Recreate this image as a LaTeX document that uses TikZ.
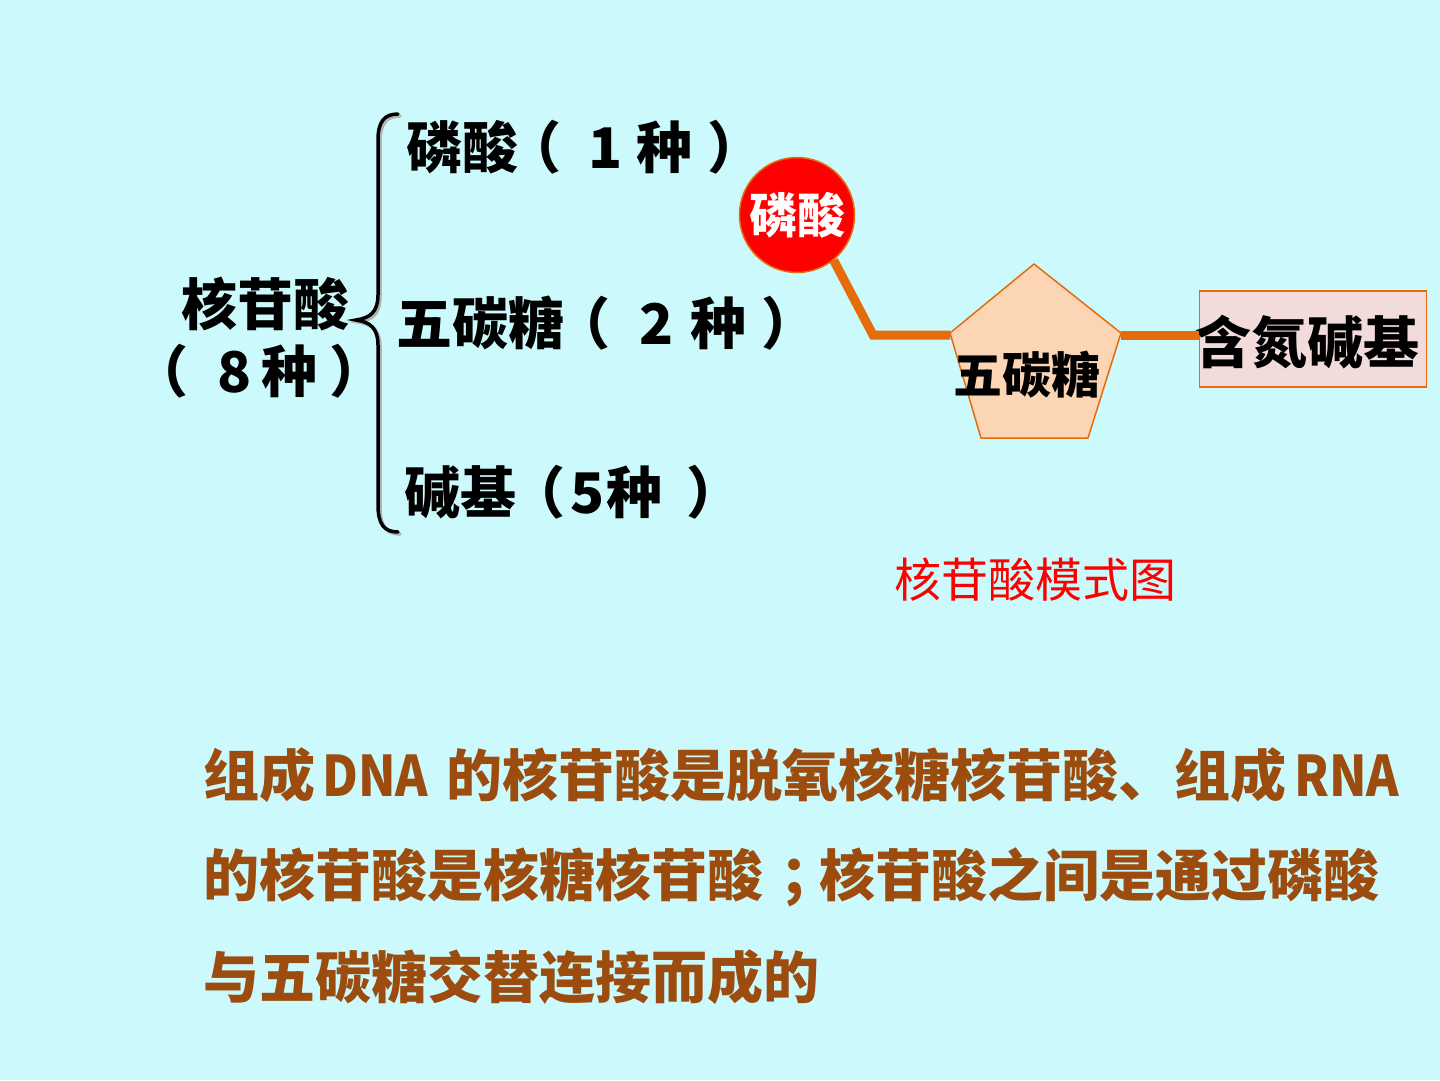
\documentclass[tikz,border=0pt]{standalone}
\usepackage{fontspec}
\newfontfamily\cjk{Noto Sans CJK SC}
\definecolor{bgc}{RGB}{204,250,252}
\definecolor{orline}{RGB}{228,108,10}
\definecolor{pent}{RGB}{252,213,181}
\definecolor{boxc}{RGB}{242,220,219}
\definecolor{brownt}{RGB}{156,76,14}
\definecolor{redc}{RGB}{255,0,0}
\newcommand{\narrowlat}[1]{\scalebox{0.88}[1]{#1}}
\tikzset{
  bigtxt/.style={inner sep=0pt, font=\cjk\bfseries\fontsize{56}{60}\selectfont, text=black},
  bottomtxt/.style={inner sep=0pt, anchor=west, font=\cjk\bfseries\fontsize{56}{60}\selectfont, text=brownt},
  link/.style={draw=orline, line width=9pt},
  bracestyle/.style={line width=3.5pt, line cap=round},
}
\begin{document}
\begin{tikzpicture}[x=1pt,y=-1pt]
\fill[bgc] (0,0) rectangle (1440,1080);
\useasboundingbox (0,0) rectangle (1440,1080);

% left classification
\node[bigtxt] (nuc) at (265,304) {核苷酸};
\node[bigtxt] (nuc8) at (259,371) {（\hspace{29pt}8\hspace{10pt}种\hspace{12pt}）};
\draw[bracestyle, gray!60, shift={(2,2)}] (398,114) .. controls (384,114) and (378,122) .. (378,140) -- (378,295) .. controls (378,312) and (370,318) .. (356,320) .. controls (370,322) and (378,328) .. (378,345) -- (378,505) .. controls (378,524) and (384,532) .. (398,532);
\draw[bracestyle, black] (398,114) .. controls (384,114) and (378,122) .. (378,140) -- (378,295) .. controls (378,312) and (370,318) .. (356,320) .. controls (370,322) and (378,328) .. (378,345) -- (378,505) .. controls (378,524) and (384,532) .. (398,532);
\node[bigtxt, anchor=west] (p1) at (406,147) {磷酸\hspace{-13pt}（\hspace{27pt}1\hspace{14pt}种\hspace{15pt}）};
\node[bigtxt, anchor=west] (p2) at (396,323) {五碳糖\hspace{-10pt}（\hspace{29pt}2\hspace{17pt}种\hspace{15pt}）};
\node[bigtxt, anchor=west] (p3) at (404,492) {碱基\hspace{-7pt}（\hspace{5pt}5\hspace{2pt}种\hspace{24pt}）};

% nucleotide model
\node[circle, fill=redc, draw=orline, line width=1.5pt, minimum size=115pt, inner sep=0pt,
      font=\cjk\bfseries\fontsize{48}{50}\selectfont, text=white] (pa) at (797,215) {磷酸};
\coordinate (s1) at (1034,264);
\coordinate (s2) at (950,333);
\coordinate (s3) at (981,438);
\coordinate (s4) at (1088,438);
\coordinate (s5) at (1121,333);
\filldraw[fill=pent, draw=orline, line width=1.5pt, line join=round] (s1) -- (s2) -- (s3) -- (s4) -- (s5) -- cycle;
\node[bigtxt, font=\cjk\bfseries\fontsize{49}{52}\selectfont] (sugartxt) at (1027,375) {五碳糖};
\node[rectangle, fill=boxc, draw=orline, line width=1.5pt, minimum width=227pt, minimum height=96pt,
      inner sep=0pt] (base) at (1313,339) {};
\node[bigtxt] (basetxt) at (1307,342) {含氮碱基};
\coordinate (bend) at (873,335);
\coordinate (s2l) at (950,335);
\coordinate (s5r) at (1121,335);
\draw[link] (pa.-51) -- (bend) -- (s2l);
\draw[link] (s5r) -- (s5r -| base.west);

\node[inner sep=0pt, font=\cjk\fontsize{47}{50}\selectfont, text=redc] (cap) at (1035,580) {核苷酸模式图};

% bottom text
\node[bottomtxt] (l1) at (203,775) {组成\hspace{7pt}\narrowlat{DNA}\hspace{18pt}的核苷酸是脱氧核糖核苷酸、组成\hspace{8pt}\narrowlat{RNA}};
\node[bottomtxt] (l2) at (203,877) {的核苷酸是核糖核苷酸\hspace{17pt}；\hspace{-17pt}核苷酸之间是通过磷酸};
\node[bottomtxt] (l3) at (203,977) {与五碳糖交替连接而成的};
\end{tikzpicture}
\end{document}
